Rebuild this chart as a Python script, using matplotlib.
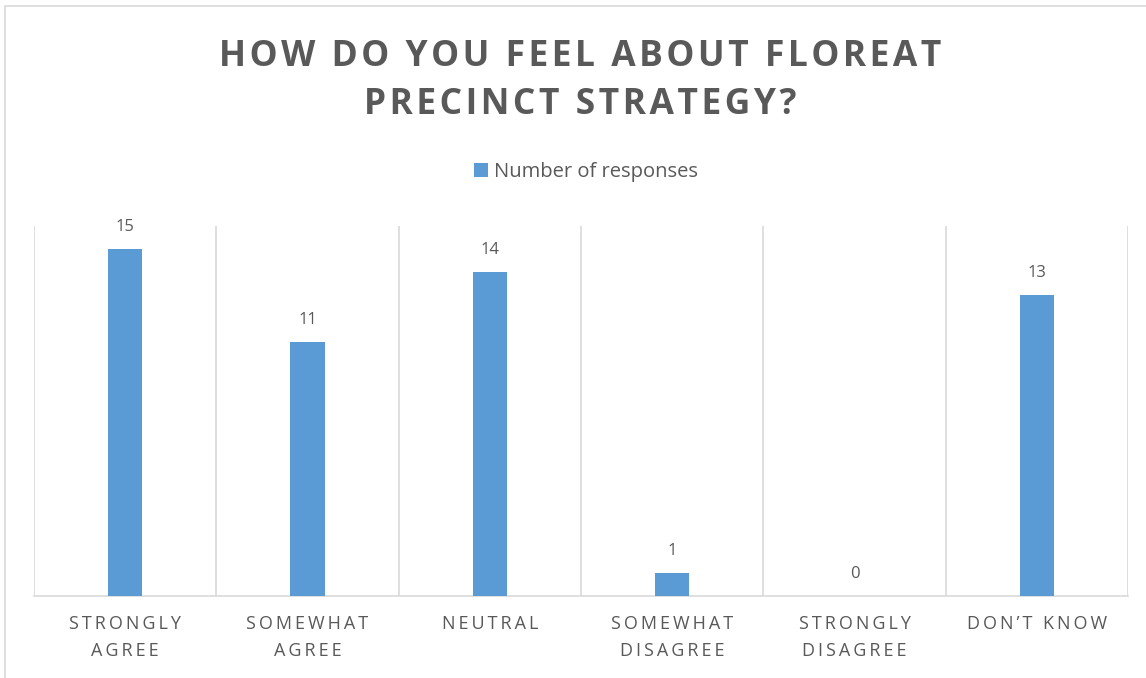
import matplotlib.pyplot as plt
from matplotlib.patches import Rectangle

categories = ["STRONGLY\nAGREE", "SOMEWHAT\nAGREE", "NEUTRAL",
              "SOMEWHAT\nDISAGREE", "STRONGLY\nDISAGREE", "DON\u2019T KNOW"]
responses = [15, 11, 14, 1, 0, 13]
series_name = "Number of responses"
title = "HOW DO YOU FEEL ABOUT FLOREAT\nPRECINCT STRATEGY?"

BLUE = "#5B9BD5"
GREY = "#595959"
LINE = "#D9D9D9"
FONTS = ["Open Sans", "DejaVu Sans"]


def spaced(s, gap="\u2009"):
    # fake letter spacing with thin spaces
    return "\n".join(gap.join(line) for line in s.split("\n"))


fig = plt.figure(figsize=(11.46, 6.78), dpi=100)
W, H = 1146, 678

# chart border (only top and left visible in the reference)
fig.patches.append(Rectangle((5 / W, -0.05), 1.2, (678 - 6) / H + 0.05,
                             transform=fig.transFigure, fill=False,
                             edgecolor=LINE, linewidth=1.2))

ax = fig.add_axes([34 / W, (H - 596) / H, (1128 - 34) / W, (596 - 226) / H])
x = list(range(len(categories)))
bars = ax.bar(x, responses, width=0.187, color=BLUE, label=series_name, zorder=3)

ax.set_xlim(-0.5, len(categories) - 0.5)
ax.set_ylim(0, 16)
for b in range(len(categories) + 1):
    ax.axvline(b - 0.5, color=LINE, linewidth=1.2, zorder=1)

for s in ["top", "left", "right"]:
    ax.spines[s].set_visible(False)
ax.spines["bottom"].set_color(LINE)
ax.spines["bottom"].set_linewidth(1.2)
ax.set_yticks([])
ax.set_xticks(x)
ax.set_xticklabels([spaced(c) for c in categories], family=FONTS,
                   fontsize=13, color=GREY, linespacing=1.6)
ax.tick_params(axis="x", length=0, pad=14)

for xi, v in zip(x, responses):
    ax.annotate(str(v), (xi, v), xytext=(0, 10), textcoords="offset points",
                ha="center", va="bottom", fontsize=12, color=GREY, family=FONTS)

fig.text(580 / W, 1 - 81 / H, spaced(title, "\u200a"), ha="center", va="center",
         fontsize=25.5, fontweight="bold", color=GREY, family=FONTS,
         linespacing=1.43)

leg = fig.legend(loc="center", bbox_to_anchor=(586 / W, 1 - 172 / H),
                 frameon=False, prop={"family": FONTS, "size": 14.5},
                 handlelength=0.7, handleheight=0.7, handletextpad=0.3)
for t in leg.get_texts():
    t.set_color(GREY)

fig.savefig("out.png", dpi=100)
